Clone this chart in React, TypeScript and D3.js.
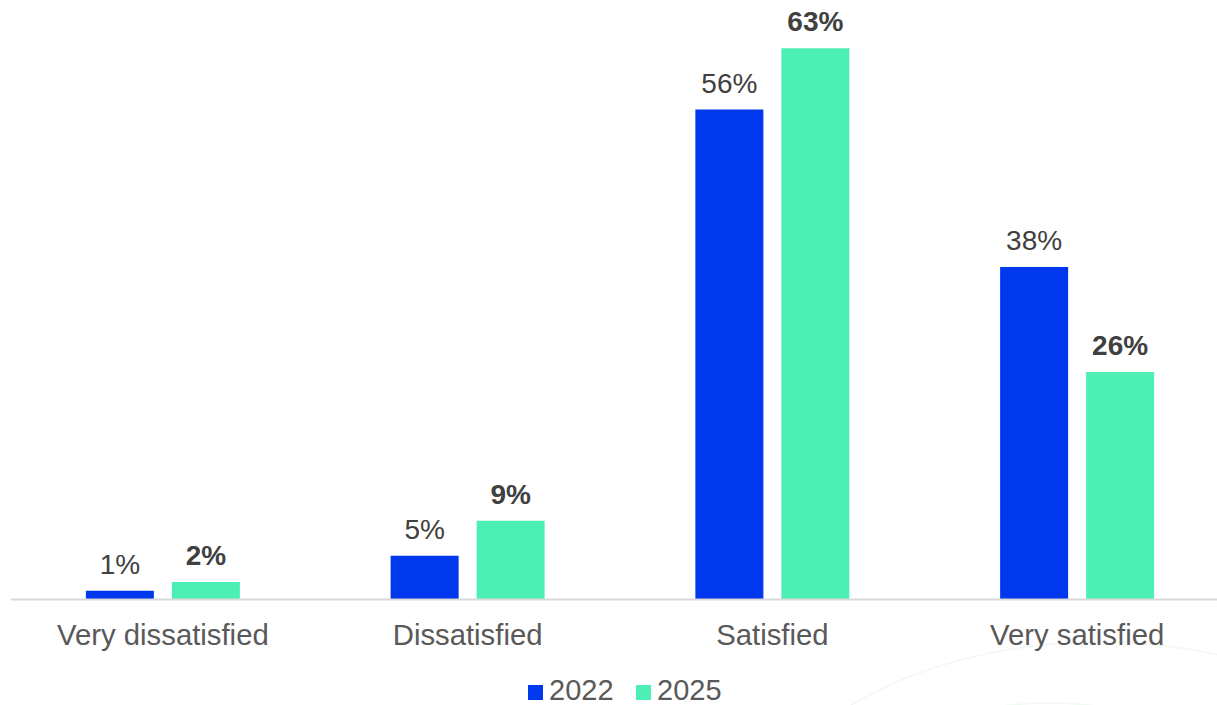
import React from "react";
import * as d3 from "d3";

const categories = ["Very dissatisfied", "Dissatisfied", "Satisfied", "Very satisfied"];
const seriesNames = ["2022", "2025"];
const values2022 = [1, 5, 56, 38];
const values2025 = [2, 9, 63, 26];
const seriesColors = ["#0039ED", "#4CF0B5"];

const W = 1217;
const H = 705;
const baseY = 599.5;

export default function App() {
  const x0 = d3.scaleBand<string>().domain(categories).range([10.5, 1229.5]).paddingInner(0).paddingOuter(0);
  const bw0 = x0.bandwidth();
  const x1 = d3
    .scaleBand<string>()
    .domain(seriesNames)
    .range([0, bw0])
    .paddingInner(18 / 86)
    .paddingOuter(0.8765);
  const y = d3.scaleLinear().domain([0, 70]).range([baseY, baseY - 70 * 8.75]);
  const series = [values2022, values2025];
  const font = "'Liberation Sans', Arial, sans-serif";

  return (
    <svg
      width={W}
      height={H}
      style={{ position: "absolute", left: 0, top: 0, background: "#fff" }}
      fontFamily={font}
    >
      <ellipse cx={1100} cy={900} rx={380} ry={258} fill="none" stroke="#eef8f1" strokeWidth={1.5} />
      <ellipse cx={1050} cy={765} rx={150} ry={62} fill="none" stroke="#f1f9f3" strokeWidth={1.5} />
      {categories.map((c, i) => (
        <g key={c}>
          {seriesNames.map((s, si) => {
            const v = series[si][i];
            const bx = (x0(c) as number) + (x1(s) as number);
            const bwid = x1.bandwidth();
            return (
              <g key={s}>
                <rect x={bx} y={y(v)} width={bwid} height={baseY - y(v)} fill={seriesColors[si]} />
                <text
                  x={bx + bwid / 2}
                  y={y(v) - 17}
                  textAnchor="middle"
                  fontSize={28}
                  fontWeight={si === 1 ? "bold" : "normal"}
                  fill="#404040"
                >
                  {v}%
                </text>
              </g>
            );
          })}
          <text
            x={(x0(c) as number) + bw0 / 2}
            y={645}
            textAnchor="middle"
            fontSize={29.3}
            fill="#595959"
          >
            {c}
          </text>
        </g>
      ))}
      <line x1={11} x2={W} y1={599.5} y2={599.5} stroke="#d9d9d9" strokeWidth={2} />
      {seriesNames.map((s, si) => {
        const lx = [528, 636][si];
        return (
          <g key={s}>
            <rect x={lx} y={685} width={15} height={15} fill={seriesColors[si]} />
            <text x={lx + 21} y={699.5} fontSize={29} fill="#595959">
              {s}
            </text>
          </g>
        );
      })}
    </svg>
  );
}
